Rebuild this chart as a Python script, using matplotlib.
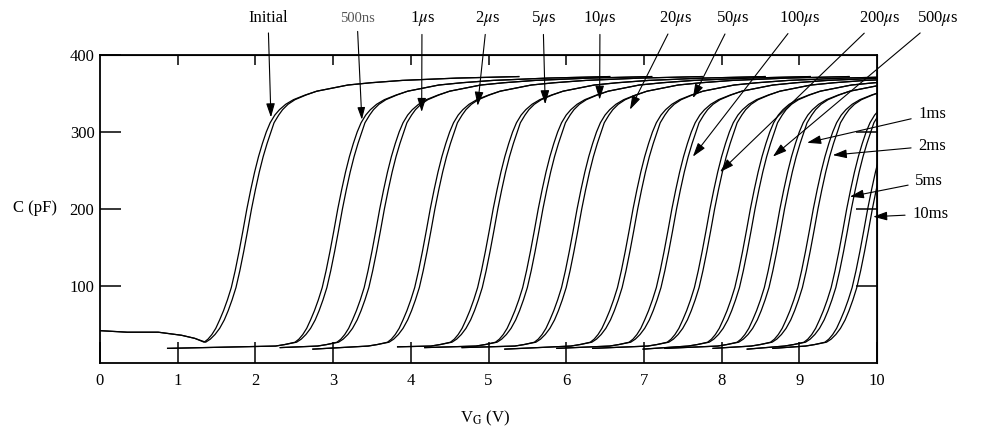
import matplotlib
matplotlib.use("Agg")
import matplotlib.pyplot as plt

# curve labels, in order of increasing stress time
labels = ["Initial", "500ns", "1$\\mu$s", "2$\\mu$s", "5$\\mu$s", "10$\\mu$s",
          "20$\\mu$s", "50$\\mu$s", "100$\\mu$s", "200$\\mu$s", "500$\\mu$s",
          "1ms", "2ms", "5ms", "10ms"]

# gate voltage where each C-V curve crosses 200 pF
v_mid = [1.89, 3.06, 3.60, 4.25, 5.06, 5.64, 6.14, 6.86, 7.36, 7.85, 8.37,
         8.75, 9.18, 9.61, 9.88]
# start of the low-capacitance tail of each curve
v_start = [0.0, 0.87, 2.32, 2.74, 3.83, 4.18, 4.66, 5.21, 5.88, 6.34, 6.99,
           7.27, 7.89, 8.33, 8.66]
c_start = [42, 19, 20, 18, 21, 20, 20, 18, 19, 19, 18, 19, 19, 18, 19]

# low tail of the initial curve (depletion region)
init_tail_v = [0.0, 0.35, 0.75, 1.05, 1.22]
init_tail_c = [42, 40, 40, 36, 32]

# common curve shape: offset from v_mid (V) vs C (pF)
foot_dv = [-0.80, -0.68]
foot_c = [22, 24]
shape_dv_up = [-0.55, -0.50, -0.45, -0.40, -0.35, -0.30, -0.25, -0.20, -0.15,
               -0.10, -0.05, 0.00, 0.05, 0.10, 0.15, 0.20, 0.25, 0.30, 0.36,
               0.42, 0.50, 0.60, 0.75, 0.90, 1.10, 1.30, 1.60, 2.00, 2.70,
               3.50]
shape_dv_dn = [-0.53, -0.47, -0.41, -0.35, -0.29, -0.24, -0.19, -0.14, -0.09,
               -0.04, 0.01, 0.06, 0.11, 0.16, 0.21, 0.26, 0.31, 0.35, 0.41,
               0.46, 0.53, 0.62, 0.76, 0.90, 1.10, 1.30, 1.60, 2.00, 2.70,
               3.50]
shape_c = [27, 31, 37, 45, 56, 68, 82, 98, 120, 145, 172, 200, 225, 248, 268,
           285, 300, 312, 322, 329, 336, 342, 348, 353, 357, 361, 364, 367,
           370, 372]

# arrow tips (V, pF) and label positions (figure pixels from top-left)
tip_v = [2.20, 3.37, 4.14, 4.86, 5.73, 6.43, 6.82, 7.63, 7.63, 7.98, 8.66,
         9.10, 9.43, 9.65, 9.95]
tip_c = [319, 316, 326, 334, 336, 342, 329, 344, 268, 248, 268, 286, 270,
         216, 190]
lab_x = [268, 357, 422, 487, 543, 600, 676, 733, 800, 880, 938, 918, 918, 915,
         912]
lab_y = [18, 18, 18, 18, 18, 18, 18, 18, 18, 18, 18, 114, 146, 181, 214]

plt.rcParams["font.family"] = ["Liberation Serif", "DejaVu Serif"]
plt.rcParams["mathtext.fontset"] = "stix"

W, H = 983, 428
fig = plt.figure(figsize=(W / 100, H / 100), dpi=100)
ax = fig.add_axes([100 / W, 1 - 363 / H, 777 / W, 308 / H])

for i, vm in enumerate(v_mid):
    if i == 0:
        base_v, base_c = list(init_tail_v), list(init_tail_c)
    else:
        base_v = [v_start[i]] + [vm + d for d in foot_dv]
        base_c = [c_start[i]] + foot_c
    for shape_dv in (shape_dv_up, shape_dv_dn):
        xs = base_v + [vm + d for d in shape_dv]
        ys = base_c + shape_c
        ax.plot(xs, ys, color="black", lw=0.9, solid_joinstyle="round")

ax.set_xlim(0, 10)
ax.set_ylim(0, 400)
for s in ax.spines.values():
    s.set_linewidth(1.3)

ax.set_xticks(range(0, 11))
ax.set_xticklabels([str(v) for v in range(0, 11)])
ax.set_yticks([100, 200, 300, 400])
ax.tick_params(axis="both", direction="in", length=15, width=1.1,
               labelsize=12)
ax.tick_params(axis="x", pad=7)
ax.tick_params(axis="y", pad=4)

top = ax.secondary_xaxis("top")
top.set_xticks(range(1, 10))
top.tick_params(direction="in", length=7, width=1.1, labeltop=False)
right = ax.secondary_yaxis("right")
right.set_yticks([100, 200, 300])
right.tick_params(direction="in", length=15, width=1.1, labelright=False)

fig.text(35 / W, 1 - 208 / H, "C (pF)", ha="center", va="center", fontsize=12)
fig.text(485 / W, 1 - 418 / H, "V$_{\\rm G}$ (V)", ha="center", va="center",
         fontsize=12)

for i, lab in enumerate(labels):
    right_side = lab_y[i] > 50
    kw = dict(fontsize=12, color="black")
    if lab == "500ns":
        kw = dict(fontsize=10.5, color="#555555")
    ax.annotate(lab, xy=(tip_v[i], tip_c[i]), xycoords="data",
                xytext=(lab_x[i], H - lab_y[i]), textcoords="figure pixels",
                ha="left" if right_side else "center", va="center",
                annotation_clip=False,
                arrowprops=dict(arrowstyle="-|>,head_length=0.7,head_width=0.22",
                                color="black", lw=0.8, shrinkA=3, shrinkB=0),
                **kw)

fig.savefig("out.png", dpi=100)
